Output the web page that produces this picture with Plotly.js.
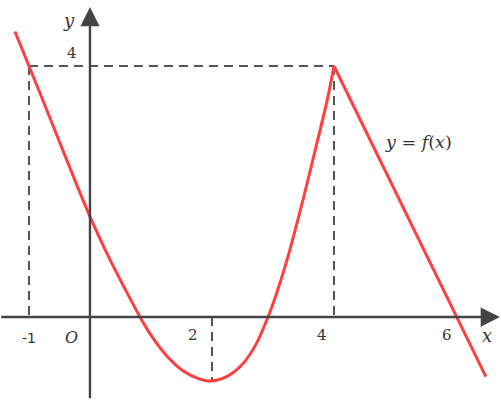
<!DOCTYPE html>
<html>
<head>
<meta charset="utf-8">
<script src="https://cdn.plot.ly/plotly-3.0.1.min.js"></script>
<style>
  html, body { margin: 0; padding: 0; background: #ffffff; }
  #graph { width: 501px; height: 404px; }
</style>
</head>
<body>
<div id="graph"></div>
<script>
// curved part of f
var curveX = [-1.23, -1, -0.7, -0.38, 0, 0.33, 0.6, 0.82, 0.98, 1.26, 1.53, 1.8, 1.97, 2.24, 2.51, 2.73, 2.91, 3.06, 3.23, 3.49, 3.72, 3.89, 4];
var curveY = [4.55, 4, 3.28, 2.5, 1.6, 0.91, 0.4, 0, -0.26, -0.62, -0.86, -0.99, -1.02, -0.95, -0.74, -0.42, -0.02, 0.38, 0.91, 1.86, 2.77, 3.46, 4];

// straight part after the peak
var lineX = [4, 6.49];
var lineY = [4, -0.95];

// dashed guides
var guideX = [-1, 2, 4];
var guideTop = 4;
var guideMin = -1.02;

// tick labels
var tickLabels = ['-1', '2', '4', '6'];
var tickPos = [-1, 1.69, 3.8, 5.85];

var red = '#ff4040';
var dashColor = '#555555';
var axisColor = '#444444';

var dashStyle = { color: dashColor, width: 2, dash: '9px,6px' };

var data = [
  { x: [guideX[0], guideX[2]], y: [guideTop, guideTop], mode: 'lines', line: dashStyle, hoverinfo: 'skip' },
  { x: [guideX[0], guideX[0]], y: [guideTop, 0], mode: 'lines', line: dashStyle, hoverinfo: 'skip' },
  { x: [guideX[2], guideX[2]], y: [guideTop, 0], mode: 'lines', line: dashStyle, hoverinfo: 'skip' },
  { x: [guideX[1], guideX[1]], y: [0, guideMin], mode: 'lines', line: dashStyle, hoverinfo: 'skip' },
  { x: curveX, y: curveY, mode: 'lines', line: { color: red, width: 3, shape: 'spline', smoothing: 0.8 } },
  { x: lineX, y: lineY, mode: 'lines', line: { color: red, width: 3 } }
];

var serif = 'DejaVu Serif';

var annotations = [
  // x axis with arrow
  { x: 6.72, y: 0, ax: -1.48, ay: 0, xref: 'x', yref: 'y', axref: 'x', ayref: 'y',
    showarrow: true, arrowhead: 2, arrowsize: 1.6, arrowwidth: 2.4, arrowcolor: axisColor, text: '' },
  // y axis with arrow
  { x: 0, y: 4.94, ax: 0, ay: -1.32, xref: 'x', yref: 'y', axref: 'x', ayref: 'y',
    showarrow: true, arrowhead: 2, arrowsize: 1.6, arrowwidth: 2.4, arrowcolor: axisColor, text: '' },
  { x: -0.34, y: 4.73, text: '<i>y</i>', showarrow: false, font: { family: serif, size: 18, color: '#333' } },
  { x: 6.51, y: -0.29, text: '<i>x</i>', showarrow: false, font: { family: serif, size: 18, color: '#333' } },
  { x: -0.3, y: -0.32, text: '<i>O</i>', showarrow: false, font: { family: serif, size: 16, color: '#333' } },
  { x: -0.3, y: 4.21, text: '4', showarrow: false, font: { family: serif, size: 15, color: '#333' } },
  { x: 5.39, y: 2.79, text: '<i>y</i> = <i>f</i>(<i>x</i>)', showarrow: false, font: { family: serif, size: 17.5, color: '#333' } }
];

tickLabels.forEach(function (t, i) {
  annotations.push({
    x: tickPos[i], y: i === 0 ? -0.33 : -0.28, text: t, showarrow: false,
    font: { family: i === 0 ? 'DejaVu Sans' : serif, size: i === 0 ? 14 : 15, color: '#333' }
  });
});

var layout = {
  width: 501,
  height: 404,
  margin: { l: 0, r: 0, t: 0, b: 0 },
  paper_bgcolor: '#ffffff',
  plot_bgcolor: '#ffffff',
  showlegend: false,
  font: { family: serif },
  xaxis: { range: [-1.475, 6.738], visible: false, fixedrange: true },
  yaxis: { range: [-1.386, 5.052], visible: false, fixedrange: true },
  annotations: annotations
};

Plotly.newPlot('graph', data, layout, { staticPlot: true });
</script>
</body>
</html>
